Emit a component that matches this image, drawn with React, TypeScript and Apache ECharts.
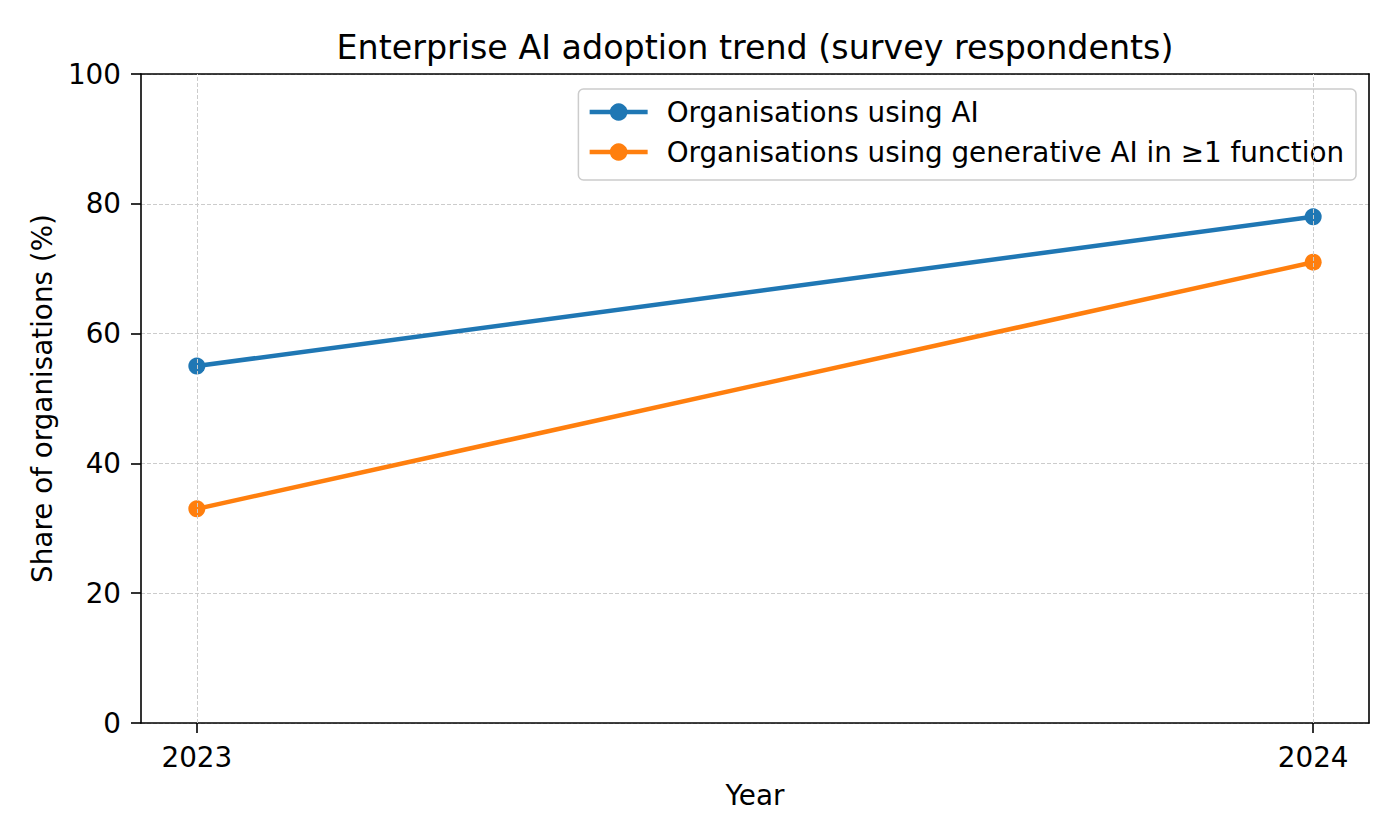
import React, { useEffect, useRef } from "react";
import * as echarts from "echarts";

const years = [2023, 2024];
const aiUse = [55, 78];
const genAiUse = [33, 71];
const yTicks = [0, 20, 40, 60, 80, 100];
const seriesNames = ["Organisations using AI", "Organisations using generative AI in ≥1 function"];
const colors = ["#1f77b4", "#ff7f0e"];

const FONT = "DejaVu Sans";
const FS = 27.8;

export default function App() {
  const ref = useRef<HTMLDivElement>(null);
  useEffect(() => {
    if (!ref.current) return;
    const chart = echarts.init(ref.current, undefined, { renderer: "svg" });
    const mk = (vals: number[]) => years.map((y, i) => [y, vals[i]]);
    const frameAxis = {
      axisLine: { show: true, onZero: false, lineStyle: { color: "#000", width: 1.6 } },
      axisTick: { show: false },
      axisLabel: { show: false },
      splitLine: { show: false },
    };
    chart.setOption({
      animation: false,
      backgroundColor: "#ffffff",
      textStyle: { fontFamily: FONT },
      graphic: [
        {
          type: "text",
          x: 755,
          y: 47,
          style: {
            text: "Enterprise AI adoption trend (survey respondents)",
            fontFamily: FONT,
            fontSize: 33.3,
            fill: "#000",
            align: "center",
            verticalAlign: "middle",
          },
        },
      ],
      grid: { left: 141, right: 31, top: 74, bottom: 117, containLabel: false },
      legend: {
        orient: "vertical",
        right: 44,
        top: 89,
        padding: [9, 12, 14, 9],
        itemGap: 12,
        itemWidth: 58,
        itemHeight: 22,
        backgroundColor: "rgba(255,255,255,0.8)",
        borderColor: "#cccccc",
        borderWidth: 1.5,
        borderRadius: 5,
        lineStyle: { width: 4.5 },
        textStyle: { fontFamily: FONT, fontSize: FS, color: "#000", padding: [0, 0, 0, 14] },
        data: seriesNames,
      },
      xAxis: [
        {
          type: "value",
          min: 2022.95,
          max: 2024.05,
          name: "Year",
          nameLocation: "middle",
          nameGap: 58,
          nameTextStyle: { fontFamily: FONT, fontSize: FS, color: "#000" },
          axisLine: { show: true, onZero: false, lineStyle: { color: "#000", width: 1.6 } },
          axisTick: { show: true, customValues: years, length: 10, lineStyle: { color: "#000", width: 1.6 } },
          axisLabel: {
            customValues: years,
            fontFamily: FONT,
            fontSize: FS,
            color: "#000",
            margin: 20,
            formatter: (v: number) => String(Math.round(v)),
          },
          splitLine: { show: false },
        },
        { type: "value", position: "top", min: 2022.95, max: 2024.05, ...frameAxis },
      ],
      yAxis: [
        {
          type: "value",
          min: 0,
          max: 100,
          interval: 20,
          name: "Share of organisations (%)",
          nameLocation: "middle",
          nameGap: 85,
          nameTextStyle: { fontFamily: FONT, fontSize: FS, color: "#000" },
          axisLine: { show: true, lineStyle: { color: "#000", width: 1.6 } },
          axisTick: { show: true, length: 10, lineStyle: { color: "#000", width: 1.6 } },
          axisLabel: {
            fontFamily: FONT,
            fontSize: FS,
            color: "#000",
            margin: 20,
            customValues: yTicks,
          },
          splitLine: { show: true, lineStyle: { color: "#cccccc", type: [4, 2], width: 1 } },
        },
        { type: "value", position: "right", min: 0, max: 100, ...frameAxis },
      ],
      series: [
        {
          name: "grid-x",
          type: "line",
          data: [],
          silent: true,
          markLine: {
            silent: true,
            symbol: "none",
            label: { show: false },
            lineStyle: { color: "#cccccc", type: [4, 2], width: 1 },
            data: years.map((y) => ({ xAxis: y })),
          },
          z: 0,
        },
        {
          name: seriesNames[0],
          type: "line",
          data: mk(aiUse),
          color: colors[0],
          lineStyle: { width: 4.5, color: colors[0] },
          symbol: "circle",
          symbolSize: 17,
          itemStyle: { color: colors[0] },
          z: 3,
        },
        {
          name: seriesNames[1],
          type: "line",
          data: mk(genAiUse),
          color: colors[1],
          lineStyle: { width: 4.5, color: colors[1] },
          symbol: "circle",
          symbolSize: 17,
          itemStyle: { color: colors[1] },
          z: 3,
        },
      ],
    });
    return () => chart.dispose();
  }, []);
  return (
    <div
      ref={ref}
      style={{ position: "fixed", left: 0, top: 0, width: 1400, height: 840, background: "#fff" }}
    />
  );
}
